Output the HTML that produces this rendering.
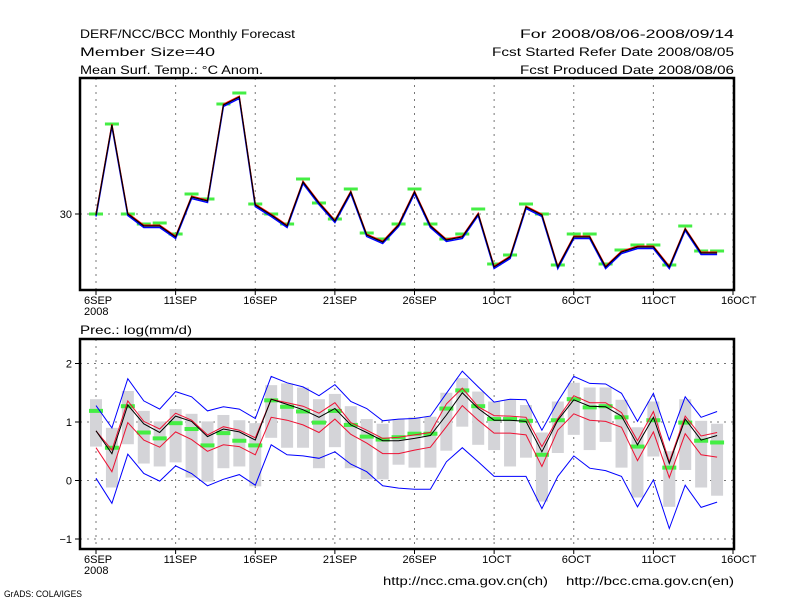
<!DOCTYPE html>
<html><head><meta charset="utf-8"><style>
html,body{margin:0;padding:0;background:#fff;}
svg{display:block;font-family:"Liberation Sans",sans-serif;}
</style></head><body>
<svg id="chart" width="800" height="600" viewBox="0 0 800 600" xmlns="http://www.w3.org/2000/svg">
<rect x="0" y="0" width="800" height="600" fill="#fff"/>
<g font-size="12" fill="#000" lengthAdjust="spacingAndGlyphs">
<text x="80" y="38" textLength="215" lengthAdjust="spacingAndGlyphs">DERF/NCC/BCC Monthly Forecast</text>
<text x="80" y="56" textLength="135" lengthAdjust="spacingAndGlyphs">Member Size=40</text>
<text x="80" y="74" textLength="183" lengthAdjust="spacingAndGlyphs">Mean Surf. Temp.: °C Anom.</text>
<text x="520" y="38" textLength="214" lengthAdjust="spacingAndGlyphs">For 2008/08/06-2008/09/14</text>
<text x="492" y="56" textLength="242" lengthAdjust="spacingAndGlyphs">Fcst Started Refer Date 2008/08/05</text>
<text x="520" y="74" textLength="214" lengthAdjust="spacingAndGlyphs">Fcst Produced Date 2008/08/06</text>
<text x="80" y="334" textLength="112" lengthAdjust="spacingAndGlyphs">Prec.: log(mm/d)</text>
<text x="383" y="585" textLength="165" lengthAdjust="spacingAndGlyphs">http://ncc.cma.gov.cn(ch)</text>
<text x="566" y="585" textLength="168" lengthAdjust="spacingAndGlyphs">http://bcc.cma.gov.cn(en)</text>
</g>
<text x="4" y="597" font-size="9" textLength="78" lengthAdjust="spacingAndGlyphs">GrADS: COLA/IGES</text>
<g id="topPanel"></g>
<g id="botPanel"></g>
</svg>
<script>
const dateLabels=["6SEP","11SEP","16SEP","21SEP","26SEP","1OCT","6OCT","11OCT","16OCT"];
const tempMean=[29.95,34.45,30,29.4,29.4,28.85,30.85,30.65,35.45,35.85,30.45,29.95,29.4,31.6,30.55,29.65,31.1,28.95,28.6,29.45,31.1,29.4,28.7,28.85,30,27.35,27.85,30.35,29.95,27.35,28.85,28.85,27.35,28.1,28.35,28.35,27.35,29.25,28.05,28.05];
const tempObs=[30,34.5,30,29.5,29.55,29,31,30.75,35.5,36.05,30.5,30,29.5,31.75,30.55,29.75,31.25,29.05,28.75,29.5,31.25,29.5,28.75,29,30.25,27.5,27.95,30.5,30,27.45,29,29,27.5,28.2,28.45,28.45,27.45,29.4,28.15,28.15];
const tempTicks=[30];
const precMean=[0.85,0.46,1.29,0.97,0.82,1.10,1.01,0.75,0.88,0.83,0.69,1.39,1.30,1.21,1.08,1.23,0.95,0.82,0.68,0.68,0.72,0.77,1.12,1.50,1.23,1.03,1.03,1.01,0.49,1.03,1.38,1.27,1.26,1.10,0.61,1.08,0.29,1.05,0.69,0.77];
const precUpper=[0.85,0.52,1.36,1.01,0.88,1.15,1.03,0.78,0.92,0.86,0.73,1.39,1.33,1.27,1.15,1.33,0.99,0.86,0.72,0.74,0.78,0.82,1.31,1.58,1.26,1.11,1.10,1.08,0.58,1.06,1.45,1.33,1.33,1.16,0.68,1.18,0.32,1.10,0.76,0.82];
const precLower=[0.56,0.15,0.99,0.69,0.57,0.83,0.70,0.50,0.61,0.58,0.44,1.08,1.03,0.95,0.82,1.05,0.79,0.64,0.46,0.46,0.52,0.57,0.92,1.28,1.03,0.81,0.81,0.78,0.24,0.86,1.14,1.03,1.01,0.91,0.34,0.83,0.05,0.80,0.44,0.40];
const precMax=[1.28,0.90,1.74,1.36,1.22,1.52,1.43,1.19,1.26,1.22,1.06,1.78,1.67,1.60,1.45,1.64,1.35,1.23,1.02,1.05,1.06,1.10,1.49,1.87,1.60,1.34,1.39,1.38,0.86,1.35,1.78,1.66,1.65,1.49,1.01,1.49,0.69,1.43,1.08,1.18];
const precMin=[0.04,-0.39,0.45,0.12,-0.01,0.25,0.12,-0.09,0.02,0.10,-0.08,0.61,0.44,0.42,0.38,0.49,0.28,0.15,-0.09,-0.13,-0.15,-0.15,0.32,0.56,0.32,0.07,0.07,0.07,-0.48,0.07,0.42,0.21,0.17,0.07,-0.45,0.01,-0.82,-0.08,-0.46,-0.37];
const obsTop=[1.39,0.90,1.53,1.19,1.01,1.22,1.14,1.01,1.12,1.03,0.98,1.63,1.66,1.59,1.39,1.48,1.27,1.05,0.97,1.05,1.08,1.09,1.50,1.75,1.52,1.35,1.38,1.29,0.82,1.35,1.67,1.59,1.59,1.38,0.91,1.35,0.50,1.39,1.02,0.97];
const obsBottom=[0.58,-0.12,0.62,0.29,0.24,0.31,0.05,-0.02,0.21,0.24,-0.10,0.73,0.56,0.56,0.21,0.57,0.21,0.02,0.02,0.27,0.22,0.22,0.51,0.92,0.61,0.52,0.24,0.39,-0.36,0.47,0.78,0.52,0.66,0.22,-0.29,0.41,-0.45,0.18,-0.12,-0.26];
const precObs=[1.19,0.56,1.27,0.82,0.72,0.98,0.88,0.60,0.81,0.68,0.60,1.37,1.26,1.18,0.99,1.19,0.95,0.75,0.70,0.74,0.80,0.80,1.23,1.54,1.27,1.05,1.05,1.02,0.44,1.03,1.39,1.25,1.27,1.08,0.58,1.03,0.22,0.99,0.68,0.65];
const precTicks=[2,1,0,-1];

const NS="http://www.w3.org/2000/svg";
const PL=80,PR=734;
const xDay=d=>96+d*15.925;
const yT=v=>214-(v-30)*20;
const yP=v=>480.5-v*58.5;
function mk(parent,tag,attrs){const e=document.createElementNS(NS,tag);for(const k in attrs)e.setAttribute(k,attrs[k]);parent.appendChild(e);return e;}
function poly(arr,f,dy){return arr.map((v,i)=>xDay(i).toFixed(1)+","+(f(v)+dy).toFixed(1)).join(" ");}

function panel(g,py0,py1,ticks,fy,prefix){
  dateLabels.forEach((lab,i)=>{
    const x=xDay(i*5);
    const gl=mk(g,'line',{x1:x,x2:x,y1:py0,y2:py1,stroke:'#777','stroke-dasharray':'2,5'});
    
    
    const tk=mk(g,'line',{x1:x,x2:x,y1:py1,y2:py1+5,stroke:'#000'});
    
    
    const t=mk(g,'text',{x:x-12,y:py1+14,'font-size':'11'});
    t.textContent=lab;
    
    
  });
  const yr=mk(g,'text',{x:xDay(0)-12,y:py1+25,'font-size':'11'});
  yr.textContent='2008';
  
  
  ticks.forEach(v=>{
    const y=fy(v);
    const gl=mk(g,'line',{x1:PL,x2:PR,y1:y,y2:y,stroke:'#777','stroke-dasharray':'2,5'});
    
    
    const tk=mk(g,'line',{x1:PL-5,x2:PL,y1:y,y2:y,stroke:'#000'});
    
    
    const t=mk(g,'text',{x:PL-8,y:y+4,'font-size':'11','text-anchor':'end'});
    t.textContent=v<0?'\u2212'+(-v):String(v);
    
    
  });
}

const topG=document.getElementById('topPanel');


panel(topG,78,290,tempTicks,yT,'temp');
tempObs.forEach((v,i)=>{
  const r=mk(topG,'rect',{x:xDay(i)-7,y:yT(v)-1.5,width:14,height:3,fill:'#44ee44'});
  
  
});
const tb=mk(topG,'polyline',{points:poly(tempMean,yT,1.5),fill:'none',stroke:'#0000ff','stroke-width':'1.5'});


const tr=mk(topG,'polyline',{points:poly(tempMean,yT,-0.8),fill:'none',stroke:'#ff0000','stroke-width':'1.3'});


const tm=mk(topG,'polyline',{points:poly(tempMean,yT,0),fill:'none',stroke:'#000','stroke-width':'1.2'});


const tf=mk(topG,'rect',{x:PL,y:78,width:PR-PL,height:212,fill:'none',stroke:'#000','stroke-width':'2.5'});



const botG=document.getElementById('botPanel');


panel(botG,339,549,precTicks,yP,'prec');
obsTop.forEach((v,i)=>{
  const r=mk(botG,'rect',{x:xDay(i)-6,y:yP(v),width:12,height:yP(obsBottom[i])-yP(v),fill:'#d4d4d8'});
  
  
});
precObs.forEach((v,i)=>{
  const r=mk(botG,'rect',{x:xDay(i)-7,y:yP(v)-2,width:14,height:4,fill:'#44ee44'});
  
  
});
[[precMax,'#0000ff','prec-max-line'],[precMin,'#0000ff','prec-min-line'],[precUpper,'#ee1133','prec-upper-line'],[precLower,'#ee1133','prec-lower-line'],[precMean,'#000','prec-mean-line']].forEach(s=>{
  const p=mk(botG,'polyline',{points:poly(s[0],yP,0),fill:'none',stroke:s[1],'stroke-width':'1'});
  
  
});
const bf=mk(botG,'rect',{x:PL,y:339,width:PR-PL,height:210,fill:'none',stroke:'#000','stroke-width':'2.5'});


</script>
</body></html>
